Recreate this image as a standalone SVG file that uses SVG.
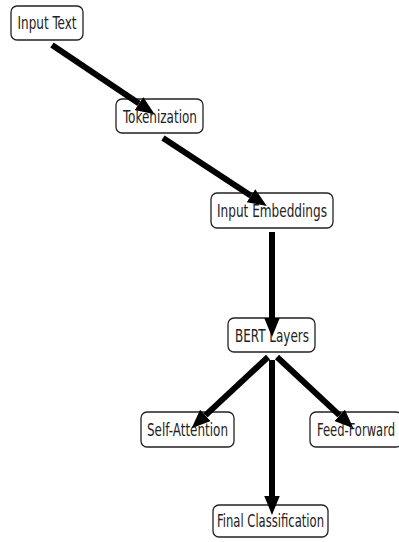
<svg xmlns="http://www.w3.org/2000/svg" width="399" height="542" viewBox="0 0 399 542">
<style>
.box{fill:#fff;stroke:#222;stroke-width:1.3}
.lbl{font-family:"DejaVu Sans Condensed","DejaVu Sans",sans-serif;font-size:17px;fill:#222;text-anchor:middle}
.edge{stroke:#000;stroke-width:6;fill:none}
</style>
<defs>
<marker id="ah" markerUnits="userSpaceOnUse" markerWidth="20" markerHeight="20" viewBox="0 -8 18 16" refX="0" refY="0" orient="auto">
<path d="M0,-7 L17,0 L0,7 z" fill="#000"/>
</marker>
</defs>
<rect width="399" height="542" fill="#fff"/>
<g id="n-input-text"><rect class="box" x="11" y="6" width="72" height="34" rx="6"/><text class="lbl" x="47" y="28.5" textLength="59" lengthAdjust="spacingAndGlyphs">Input Text</text></g>
<g id="n-tokenization"><rect class="box" x="116" y="99" width="87" height="34" rx="6"/><text class="lbl" x="160" y="122.5" textLength="74" lengthAdjust="spacingAndGlyphs">Tokenization</text></g>
<g id="n-input-embeddings"><rect class="box" x="211" y="193" width="122" height="35" rx="6"/><text class="lbl" x="272" y="217" textLength="110" lengthAdjust="spacingAndGlyphs">Input Embeddings</text></g>
<g id="n-bert-layers"><rect class="box" x="228" y="318" width="87" height="34" rx="6"/><text class="lbl" x="272" y="341.5" textLength="74" lengthAdjust="spacingAndGlyphs">BERT Layers</text></g>
<g id="n-self-attention"><rect class="box" x="141" y="412" width="93" height="35" rx="6"/><text class="lbl" x="187.5" y="436" textLength="81" lengthAdjust="spacingAndGlyphs">Self-Attention</text></g>
<g id="n-feed-forward"><rect class="box" x="310" y="412" width="92" height="35" rx="6"/><text class="lbl" x="356" y="436" textLength="78" lengthAdjust="spacingAndGlyphs">Feed-Forward</text></g>
<g id="n-final-classification"><rect class="box" x="213" y="505" width="115" height="32" rx="6"/><text class="lbl" x="270.5" y="527" textLength="107" lengthAdjust="spacingAndGlyphs">Final Classification</text></g>
<g id="connectors">
<line class="edge" x1="52" y1="45" x2="139" y2="103.6" marker-end="url(#ah)"/>
<line class="edge" x1="163" y1="138" x2="251" y2="195.7" marker-end="url(#ah)"/>
<line class="edge" x1="272" y1="232" x2="272" y2="318" marker-end="url(#ah)"/>
<line class="edge" x1="268" y1="357" x2="205.4" y2="415.4" marker-end="url(#ah)"/>
<line class="edge" x1="277" y1="357" x2="339.6" y2="415.4" marker-end="url(#ah)"/>
<line class="edge" x1="272" y1="360" x2="272" y2="496" marker-end="url(#ah)"/>
</g>
</svg>
